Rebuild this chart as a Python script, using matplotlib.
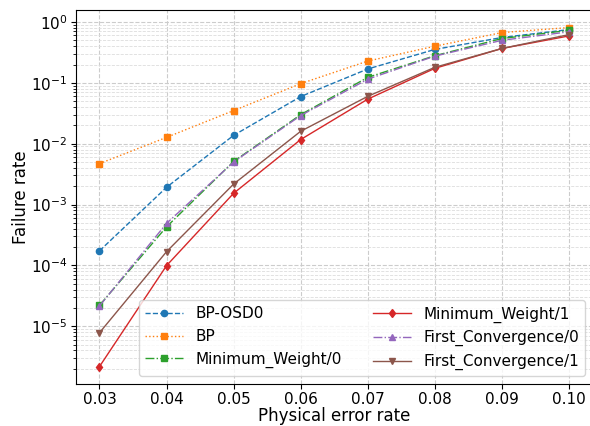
import matplotlib
matplotlib.use("Agg")
import matplotlib.pyplot as plt

p = [0.03, 0.04, 0.05, 0.06, 0.07, 0.08, 0.09, 0.10]
y_decades = [1e-5, 1e-4, 1e-3, 1e-2, 1e-1, 1e0]

bp_osd0 = [1.73e-4, 1.92e-3, 1.37e-2, 5.95e-2, 0.169, 0.354, 0.556, 0.75]
bp = [4.7e-3, 1.27e-2, 3.5e-2, 9.7e-2, 0.228, 0.40, 0.67, 0.81]
min_weight_0 = [2.2e-5, 4.3e-4, 5.1e-3, 3.0e-2, 0.123, 0.279, 0.535, 0.73]
min_weight_1 = [2.17e-6, 9.9e-5, 1.53e-3, 1.17e-2, 5.4e-2, 0.173, 0.367, 0.59]
first_conv_0 = [2.15e-5, 4.9e-4, 5.0e-3, 2.9e-2, 0.115, 0.275, 0.50, 0.69]
first_conv_1 = [7.8e-6, 1.68e-4, 2.17e-3, 1.6e-2, 6.0e-2, 0.18, 0.367, 0.62]

series = [
    ("BP-OSD0", bp_osd0, "tab:blue", "--", "o", 4.5),
    ("BP", bp, "tab:orange", ":", "s", 4.5),
    ("Minimum_Weight/0", min_weight_0, "tab:green", "-.", "s", 4),
    ("Minimum_Weight/1", min_weight_1, "tab:red", "-", "d", 4.5),
    ("First_Convergence/0", first_conv_0, "tab:purple", "-.", "^", 4.5),
    ("First_Convergence/1", first_conv_1, "tab:brown", "-", "v", 4.5),
]

fig = plt.figure(figsize=(5.9, 4.26), dpi=100)
ax = fig.add_axes([76 / 590, 42 / 426, (592.5 - 76) / 590, (384 - 10) / 426])

for label, vals, color, ls, marker, ms in series:
    ax.plot(p, vals, color=color, linestyle=ls, marker=marker, markersize=ms,
            linewidth=1.0, label=label)

ax.set_yscale("log")
ax.set_yticks(y_decades)
ax.set_ylim(10 ** -5.95, 10 ** 0.197)
ax.set_xticks(p)
ax.set_xticklabels([f"{v:.2f}" for v in p])
ax.tick_params(labelsize=11, pad=2.5)
ax.grid(True, which="major", linestyle="--", color="#cccccc", linewidth=0.8)
ax.grid(True, which="minor", axis="y", linestyle="--", color="#dddddd", linewidth=0.6)
ax.set_xlabel("Physical error rate", fontsize=12, labelpad=0)
ax.set_ylabel("Failure rate", fontsize=12, labelpad=1)
ax.legend(ncol=2, loc="lower right", fontsize=11, handlelength=2.5,
          columnspacing=2.0)

fig.savefig("out.png", dpi=100)
